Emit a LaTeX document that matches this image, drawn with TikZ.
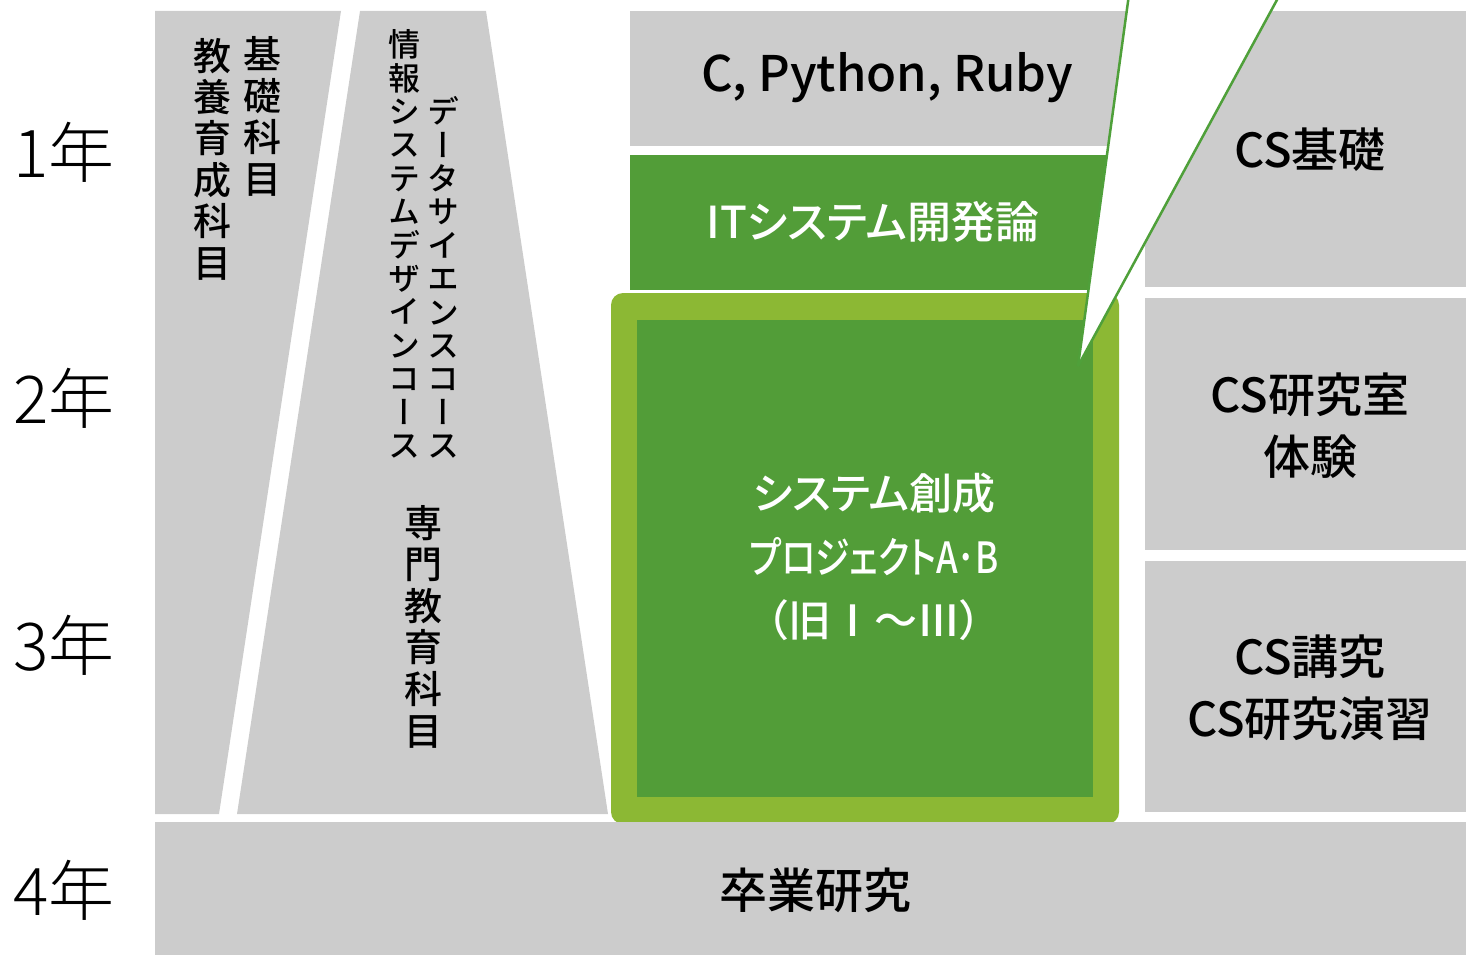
\documentclass[tikz,border=0pt]{standalone}
\usepackage{fontspec}
\setmainfont{Noto Sans CJK JP}
\newfontfamily\jp{Noto Sans CJK JP Light}
\newfontfamily\jpm[RawFeature=+palt]{Noto Sans CJK JP Medium}
\newfontfamily\jpvm[RawFeature=+vert]{Noto Sans CJK JP Medium}
\definecolor{boxgray}{HTML}{CCCCCC}
\definecolor{dgreen}{HTML}{529D38}
\definecolor{lgreen}{HTML}{8CB834}
\definecolor{cgreen}{HTML}{4FA03A}
\tikzset{
  box/.style={inner sep=0pt, outer sep=0pt, draw=none},
  year/.style={inner sep=0pt, font=\jp\fontsize{66}{66}\selectfont, text=black},
  vtext/.style 2 args={align=center, inner sep=0pt, font=\jpvm\fontsize{#1}{#2}\selectfont, text=black},
  lbl/.style={align=center, inner sep=0pt, font=\jpm\fontsize{47}{62}\selectfont, text=black},
  wlbl/.style={align=center, inner sep=0pt, text=white},
}
\begin{document}
\begin{tikzpicture}[x=1pt,y=-1pt]
\useasboundingbox (0,0) rectangle (1466,955);
% left slanted columns
\fill[boxgray] (155,11) -- (341,11) -- (219,814) -- (155,814) -- cycle;
\fill[boxgray] (360,11) -- (486,11) -- (608,814) -- (237,814) -- cycle;
% middle boxes
\node[box, fill=boxgray, minimum width=514, minimum height=135] (cbox) at (887,78.5) {};
\node[box, fill=dgreen, minimum width=486, minimum height=135] (itbox) at (873,222.5) {};
\node[box, fill=lgreen, rounded corners=12, minimum width=508, minimum height=531] (projout) at (865,558.5) {};
\node[box, fill=dgreen, minimum width=456, minimum height=477] (projin) at (865,558.5) {};
% right boxes
\node[box, fill=boxgray, minimum width=321, minimum height=276] (csb) at (1305.5,149) {};
\node[box, fill=boxgray, minimum width=321, minimum height=252] (csl) at (1305.5,424) {};
\node[box, fill=boxgray, minimum width=321, minimum height=251] (csk) at (1305.5,686.5) {};
\node[box, fill=boxgray, minimum width=1311, minimum height=133] (grad) at (810.5,888.5) {};
% callout
\coordinate (cl) at (1128.5,-2);
\coordinate (cr) at (1278,-2);
\coordinate (tip) at (1078,366);
\fill[white] (cl) -- (cr) -- (tip) -- cycle;
\draw[cgreen, line width=2.5pt] (cl) -- (tip);
\draw[cgreen, line width=2.5pt] (cr) -- (tip);
% year labels
\node[year] (y1) at (64,152) {1年};
\node[year] (y2) at (64,398) {2年};
\node[year] (y3) at (64,645) {3年};
\node[year] (y4) at (64,890) {4年};
% vertical texts
\node[vtext={38}{41.4}] (kiso) at (262,116.5) {基\\礎\\科\\目};
\node[vtext={38}{41.4}] (kyoyo) at (212,159) {教\\養\\育\\成\\科\\目};
\node[vtext={32}{33.4}] (isd) at (404,244) {情\\報\\シ\\ス\\テ\\ム\\デ\\ザ\\イ\\ン\\コ\\ー\\ス};
\node[vtext={32}{33.4}] (ds) at (443,277.5) {デ\\ー\\タ\\サ\\イ\\エ\\ン\\ス\\コ\\ー\\ス};
\node[vtext={38}{41.6}] (senmon) at (423,626.5) {専\\門\\教\\育\\科\\目};
% box labels
\node[inner sep=0pt, font=\jpm\fontsize{49}{49}\selectfont, text=black] (ctext) at (887,78) {C, Python, Ruby};
\node[wlbl, font=\jpm\fontsize{44}{44}\selectfont] (ittext) at (873,222) {ITシステム開発論};
\node[wlbl, font=\jpm\fontsize{43}{63.5}\selectfont] (projtext) at (874,557) {システム創成\\\scalebox{0.81}[1]{プロジェクトA･B}\\（旧Ⅰ〜Ⅲ）};
\node[lbl] (csbtext) at (1310,150) {CS基礎};
\node[lbl] (csltext) at (1310,426) {CS研究室\\体験};
\node[lbl] (csktext) at (1310,688) {CS講究\\CS研究演習};
\node[lbl, font=\jpm\fontsize{48}{48}\selectfont] (gradtext) at (815,890) {卒業研究};
\end{tikzpicture}
\end{document}
